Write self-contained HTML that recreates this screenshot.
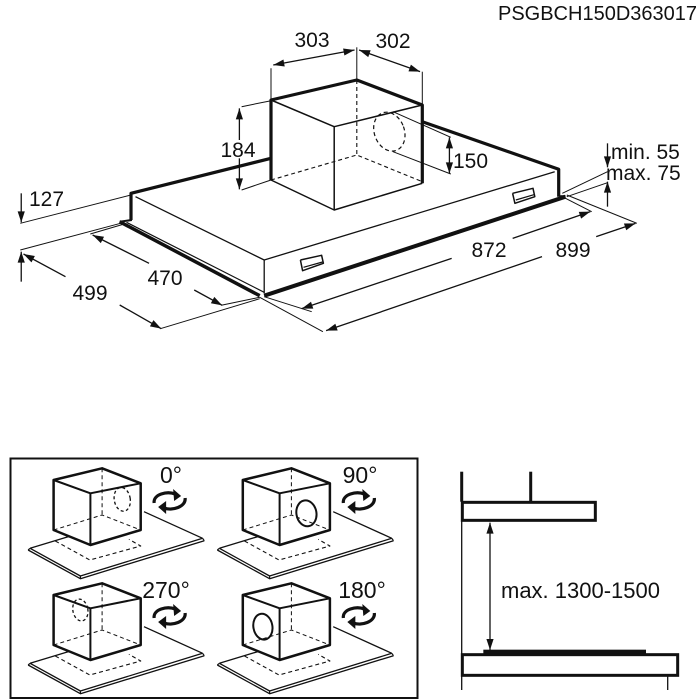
<!DOCTYPE html>
<html><head><meta charset="utf-8"><style>
html,body{margin:0;padding:0;background:#fff;}
svg{display:block;}
text{font-family:"Liberation Sans",Arial,sans-serif;fill:#111;}
</style></head><body>
<svg id="s" width="700" height="700" viewBox="0 0 700 700" xmlns="http://www.w3.org/2000/svg">
<rect width="700" height="700" fill="#fff"/>
<g id="g"></g>
<g font-size="21">
<text x="697" y="20" text-anchor="end" font-size="20">PSGBCH150D363017</text>
<text x="312" y="47" text-anchor="middle">303</text>
<text x="393" y="48" text-anchor="middle">302</text>
<text x="238" y="157" text-anchor="middle">184</text>
<text x="453" y="168">150</text>
<text x="29" y="206">127</text>
<text x="611" y="159">min. 55</text>
<text x="606" y="180">max. 75</text>
<text x="165" y="285" text-anchor="middle">470</text>
<text x="90" y="300" text-anchor="middle">499</text>
<text x="489" y="257" text-anchor="middle">872</text>
<text x="573" y="257" text-anchor="middle">899</text>
</g>
<g font-size="23">
<text x="171" y="483" text-anchor="middle">0°</text>
<text x="360" y="483" text-anchor="middle">90°</text>
<text x="166" y="598" text-anchor="middle">270°</text>
<text x="362" y="598" text-anchor="middle">180°</text>
<text x="501" y="598" font-size="22">max. 1300-1500</text>
</g>
</svg>
<script>
(function(){
var NS="http://www.w3.org/2000/svg",G=document.getElementById('g');
function el(n,a){var e=document.createElementNS(NS,n);for(var k in a)e.setAttribute(k,a[k]);G.appendChild(e);return e;}
function M(sx,sy,ox,oy){return function(x,y){return [ox+x/sx,oy+y/sy];};}
function poly(T,pts,w,opt){opt=opt||{};var s=[];for(var i=0;i<pts.length;i+=2){var p=T(pts[i],pts[i+1]);s.push(p[0].toFixed(1)+','+p[1].toFixed(1));}
 var a={points:s.join(' '),fill:opt.fill||'none',stroke:'#111','stroke-width':w,'stroke-linejoin':'round','stroke-linecap':'butt'};
 if(opt.dash)a['stroke-dasharray']=opt.dash;el(opt.fill?'polygon':'polyline',a);}
function head(p,q){var dx=p[0]-q[0],dy=p[1]-q[1],l=Math.hypot(dx,dy);dx/=l;dy/=l;var L=11,W=3.6;
 var b=[p[0]-dx*L,p[1]-dy*L];el('polygon',{points:p[0]+','+p[1]+' '+(b[0]-dy*W)+','+(b[1]+dx*W)+' '+(b[0]+dy*W)+','+(b[1]-dx*W),fill:'#111'});}
function arr(T,x1,y1,x2,y2,hs,he){var a=T(x1,y1),b=T(x2,y2);el('line',{x1:a[0],y1:a[1],x2:b[0],y2:b[1],stroke:'#111','stroke-width':1.3});if(hs)head(a,b);if(he)head(b,a);}
function ell(T,cx,cy,rx,ry,rot,w,dash,fill){var c=T(cx,cy);var a={cx:c[0],cy:c[1],rx:rx,ry:ry,transform:'rotate('+rot+' '+c[0]+' '+c[1]+')',fill:fill||'none',stroke:'#111','stroke-width':w};if(dash)a['stroke-dasharray']=dash;el('ellipse',a);}

// ===== top drawing =====
var T=M(2.214,3,0,30);
// hood
poly(T,[300,500,585,690,1228,425],1.3);
poly(T,[585,690,585,790],1.3);
poly(T,[280,577,585,787],1.2);
poly(T,[265,575,575,797],3.5);
poly(T,[265,575,292,570],2);
poly(T,[585,797,1252,500],4);
poly(T,[1240,500,1252,500],3);
poly(T,[290,570,290,490,600,385],3.2);
poly(T,[935,275,1237,418,1237,500],3.2);
// handles
poly(T,[665,690,712,676,716,700,670,722,665,690],1.5);
poly(T,[672,712,714,696],1.2);
poly(T,[1135,490,1180,475,1184,500,1140,520,1135,490],1.5);
poly(T,[1142,510,1182,494],1.2);
// box
poly(T,[600,210,740,290,935,225],1.5);
poly(T,[740,290,740,540],1.5);
poly(T,[600,450,740,540,935,460],1.5);
poly(T,[790,150,790,375],1.1,{dash:'4,3'});
poly(T,[600,450,790,375,935,455],1.1,{dash:'4,3'});
poly(T,[600,450,600,210,790,150,935,225,935,460],3.2);
ell(T,862,305,15,20,-20,1.2,'4,3');
// dimensions
poly(T,[600,210,600,115],1);poly(T,[790,150,790,52],1);poly(T,[935,225,935,125],1);
arr(T,605,105,785,60,1,1);arr(T,795,60,930,125,1,1);
poly(T,[535,230,600,212],1);poly(T,[535,480,600,450],1);
arr(T,530,330,530,235,0,1);arr(T,530,385,530,478,0,1);
poly(T,[870,245,998,322],1);poly(T,[870,365,998,432],1);
arr(T,995,322,995,430,1,1);
poly(T,[45,580,290,495],1);arr(T,47,490,47,577,0,1);
poly(T,[45,660,272,578],1);arr(T,47,755,47,665,0,1);
poly(T,[200,612,275,582],1);
arr(T,205,615,330,700,1,0);arr(T,430,780,492,826,0,1);poly(T,[490,826,575,802],1);
arr(T,52,672,145,740,1,0);arr(T,265,825,357,896,0,1);poly(T,[355,896,575,806],1);
poly(T,[585,800,690,845],1);
arr(T,668,836,1000,685,1,0);arr(T,1135,625,1307,545,0,1);poly(T,[1252,505,1310,545],1);
poly(T,[575,802,715,905],1);
arr(T,722,902,1200,680,1,0);arr(T,1320,620,1407,580,0,1);poly(T,[1255,495,1410,580],1);
poly(T,[1245,490,1345,425],1);poly(T,[1255,500,1345,458],1);
arr(T,1345,340,1345,412,0,1);arr(T,1345,530,1345,455,0,1);

// ===== bottom left panel =====
el('rect',{x:10.5,y:458.5,width:407,height:239.5,fill:'none',stroke:'#111','stroke-width':2});
var cfg=[[0,0,365,148,8,12,1,'0'],[565,0,350,190,10,13,0,'0'],[0,345,240,135,7.5,11,1,'0'],[565,345,220,185,9.5,13,0,'0']];
cfg.forEach(function(c){
 var dx=c[0],dy=c[1];var P=function(x,y){return [ (x+dx)/2.986, 450+(y+dy)/3];};
 // plate
 poly(P,[90,295,240,378,605,265],1.3);
 poly(P,[84,300,240,386,610,272],1.3);
 poly(P,[240,378,240,386],1.2);poly(P,[605,265,610,272],1.2);poly(P,[90,295,84,300],1.2);
 poly(P,[90,295,270,240],1.3);poly(P,[430,185,605,265],1.3);
 poly(P,[165,273,268,330,420,288,385,268],1.1,{dash:'4,3'});
 // box
 poly(P,[160,90,305,55,420,100,420,240,270,285,160,240],2.5,{fill:'#fff'});
 poly(P,[160,90,270,130,420,100],2);poly(P,[270,130,270,285],2);
 poly(P,[305,55,305,195],1,{dash:'4,3'});poly(P,[160,240,305,195,420,240],1,{dash:'4,3'});
 if(c[6])ell(P,c[2],c[3],c[4],c[5],-10,1.3,'3,2.5');else ell(P,c[2],c[3],c[4],c[5],-10,2);
 // rotation icon
 var o=P(505,150),x=o[0],y=o[1];
 el('path',{d:'M'+(x-15)+' '+(y+3)+' C'+(x-16)+' '+(y-6)+' '+(x-2)+' '+(y-9)+' '+(x+6)+' '+(y-6),fill:'none',stroke:'#111','stroke-width':3.2});
 el('polygon',{points:(x+12)+','+(y-4)+' '+(x+4)+','+(y-11)+' '+(x+5)+','+(y+1),fill:'#111'});
 el('path',{d:'M'+(x+16)+' '+(y-2)+' C'+(x+17)+' '+(y+7)+' '+(x+3)+' '+(y+11)+' '+(x-5)+' '+(y+8),fill:'none',stroke:'#111','stroke-width':3.2});
 el('polygon',{points:(x-11)+','+(y+7)+' '+(x-3)+','+(y+1)+' '+(x-3)+','+(y+14),fill:'#111'});
});

// ===== right diagram =====
var R=M(3,3,440,450);
poly(R,[65,65,65,155],3);poly(R,[272,65,272,155],3);
el('rect',{x:440+67/3,y:450+157/3,width:(466-67)/3,height:(211-157)/3,fill:'none',stroke:'#111','stroke-width':3});
poly(R,[65,213,65,720],1.3);
arr(R,150,218,150,600,1,1);
el('rect',{x:440+130/3,y:450+599/3,width:(618-130)/3,height:5,fill:'#111'});
el('rect',{x:440+67/3,y:450+614/3,width:(713-67)/3,height:(676-614)/3,fill:'none',stroke:'#111','stroke-width':3});
poly(R,[683,678,683,720],1.3);
})();
</script>
</body></html>
